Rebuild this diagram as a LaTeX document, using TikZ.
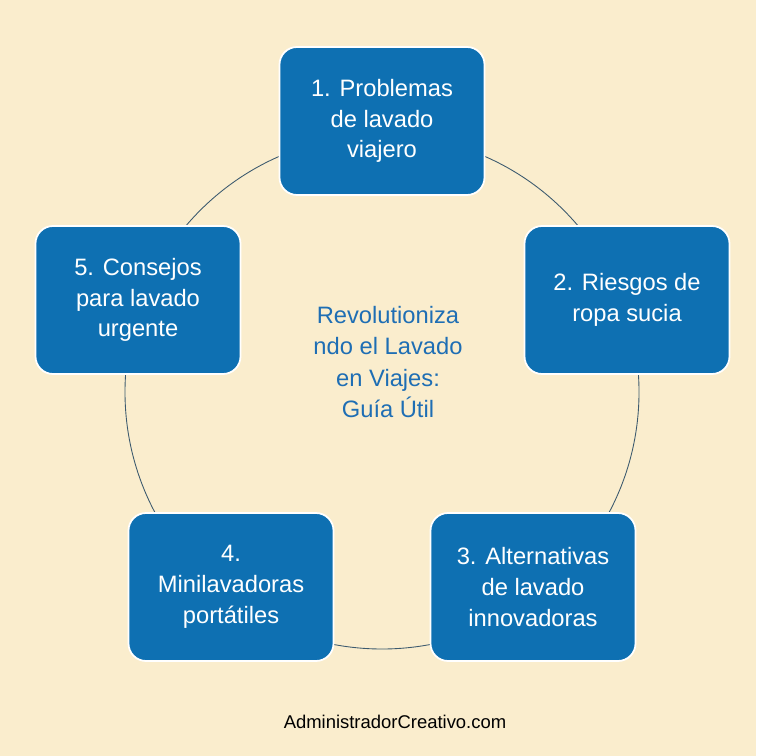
\documentclass[tikz,border=0pt]{standalone}
\usepackage{fontspec}
\setmainfont{Liberation Sans}
\definecolor{paper}{RGB}{250,237,205}
\definecolor{boxblue}{RGB}{14,112,178}
\definecolor{titleblue}{RGB}{30,110,180}
\definecolor{ringline}{RGB}{60,90,110}
\begin{document}
\begin{tikzpicture}[x=0.02cm,y=-0.02cm,
    stepbox/.style={draw=white,line width=1pt,fill=boxblue,rounded corners=10pt,
      text=white,font=\fontsize{13.5}{17.5}\selectfont,align=center,
      minimum width=205*0.02cm,minimum height=148*0.02cm,inner sep=2pt}]

    % fondo
    \fill[paper] (0,0) rectangle (756,756);
    \useasboundingbox (0,0) rectangle (756,756);

    % anillo
    \draw[ringline,line width=0.5pt] (382,392) circle[radius=257*0.02cm];

    \node[stepbox] (p1) at (382,121) {1. Problemas\\de lavado\\viajero};
    \node[stepbox] (p2) at (627,300) {2. Riesgos de\\ropa sucia};
    \node[stepbox] (p3) at (533,587) {3. Alternativas\\de lavado\\innovadoras};
    \node[stepbox] (p4) at (231,587) {4.\\Minilavadoras\\portátiles};
    \node[stepbox] (p5) at (138,300) {5. Consejos\\para lavado\\urgente};

    \node[text=titleblue,font=\fontsize{13.5}{18}\selectfont,align=center] (title) at (388,362)
      {Revolutioniza\\ndo el Lavado\\en Viajes:\\Guía Útil};

    \node[font=\fontsize{10.5}{12}\selectfont] (web) at (395,722) {AdministradorCreativo.com};
\end{tikzpicture}
\end{document}
